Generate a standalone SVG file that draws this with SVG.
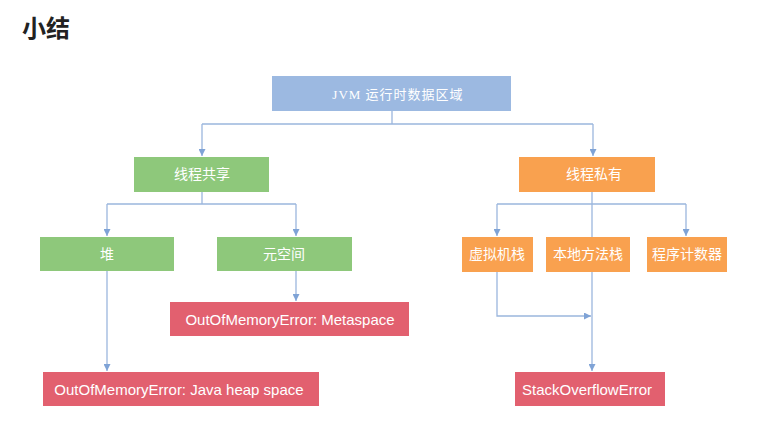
<svg xmlns="http://www.w3.org/2000/svg" width="776" height="441" viewBox="0 0 776 441">
<style>
  .blue{fill:#9cb9e1}
  .green{fill:#8ec87b}
  .orange{fill:#f9a14f}
  .red{fill:#e2606f}
  .t{fill:#ffffff;font-family:"Liberation Sans","Noto Sans CJK SC",sans-serif;font-size:14px;text-anchor:middle;dominant-baseline:central}
  .te{fill:#ffffff;font-family:"Liberation Sans",sans-serif;font-size:15px;text-anchor:middle;dominant-baseline:central}
  .ts{fill:#ffffff;font-family:"Liberation Serif","Noto Sans CJK SC",serif;font-size:13px;text-anchor:middle;dominant-baseline:central;letter-spacing:1px}
  .c{fill:none;stroke:#9bb6dd;stroke-width:1.3}
</style>
<defs>
  <marker id="arr" viewBox="0 0 10 10" refX="10" refY="5" markerWidth="7" markerHeight="7" markerUnits="userSpaceOnUse" orient="auto">
    <path d="M0,0 L10,5 L0,10 z" fill="#7fa3d6"/>
  </marker>
</defs>
<rect width="776" height="441" fill="#ffffff"/>
<text x="22" y="37" font-family="'Noto Sans CJK SC',sans-serif" font-size="24" font-weight="bold" fill="#222">小结</text>

<g id="connectors">
  <path class="c" d="M392,111 V124 M202,124 H593"/>
  <path class="c" d="M202,124 V156" marker-end="url(#arr)"/>
  <path class="c" d="M593,124 V156" marker-end="url(#arr)"/>
  <path class="c" d="M202,192 V204 M107,204 H296"/>
  <path class="c" d="M107,204 V236" marker-end="url(#arr)"/>
  <path class="c" d="M296,204 V236" marker-end="url(#arr)"/>
  <path class="c" d="M592,192 V204 M497,204 H686"/>
  <path class="c" d="M497,204 V236" marker-end="url(#arr)"/>
  <path class="c" d="M686,204 V236" marker-end="url(#arr)"/>
  <path class="c" d="M296,271 V301" marker-end="url(#arr)"/>
  <path class="c" d="M107,271 V371" marker-end="url(#arr)"/>
  <path class="c" d="M497,272 V316 H591" marker-end="url(#arr)"/>
  <path class="c" d="M592,204 V371" marker-end="url(#arr)"/>
</g>

<g id="jvm"><rect class="blue" x="272" y="76" width="239" height="35"/><text class="ts" x="398" y="94">JVM 运行时数据区域</text></g>
<g id="shared"><rect class="green" x="134" y="157" width="135" height="35"/><text class="t" x="202" y="174">线程共享</text></g>
<g id="private"><rect class="orange" x="519" y="157" width="136" height="35"/><text class="t" x="594" y="174">线程私有</text></g>
<g id="heap"><rect class="green" x="40" y="237" width="134" height="34"/><text class="t" x="107" y="254">堆</text></g>
<g id="metaspace"><rect class="green" x="217" y="237" width="135" height="34"/><text class="t" x="284" y="254">元空间</text></g>
<g id="vmstack"><rect class="orange" x="462" y="237" width="71" height="35"/><text class="t" x="497" y="254">虚拟机栈</text></g>
<g id="nativestack"><rect class="orange" x="546" y="237" width="84" height="35"/><text class="t" x="588" y="254">本地方法栈</text></g>
<g id="pc"><rect class="orange" x="647" y="237" width="80" height="35"/><text class="t" x="687" y="254">程序计数器</text></g>
<g id="oom-meta"><rect class="red" x="170" y="302" width="239" height="34"/><text class="te" x="290" y="319">OutOfMemoryError: Metaspace</text></g>
<g id="oom-heap"><rect class="red" x="43" y="372" width="276" height="34"/><text class="te" x="179" y="389">OutOfMemoryError: Java heap space</text></g>
<g id="soe"><rect class="red" x="515" y="372" width="150" height="34"/><text class="te" x="587" y="389">StackOverflowError</text></g>
</svg>
